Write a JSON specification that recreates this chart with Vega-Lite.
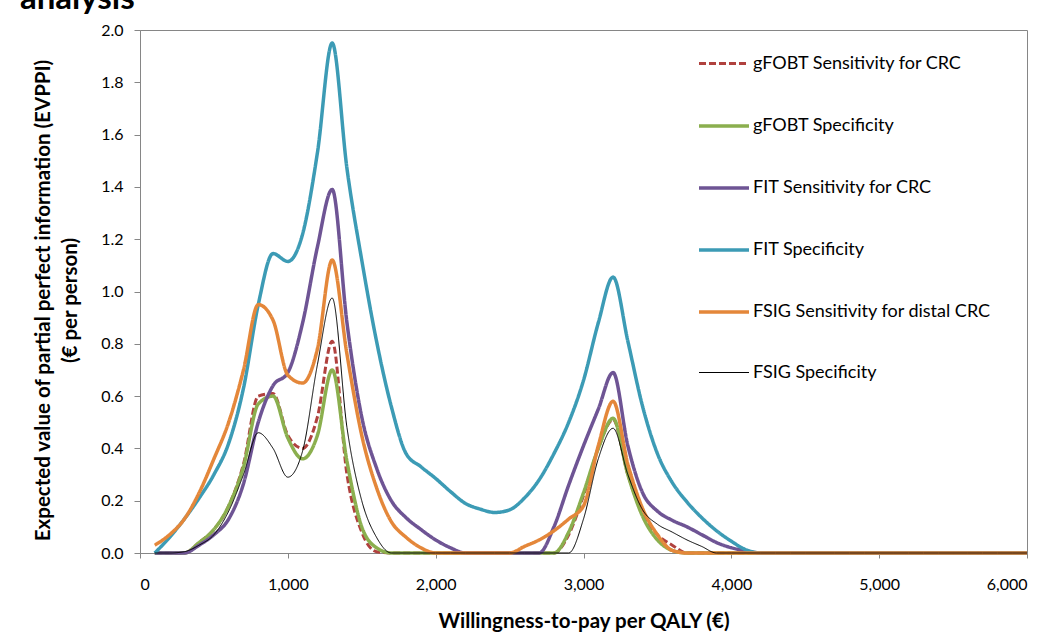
{
  "$schema": "https://vega.github.io/schema/vega-lite/v6.json",
  "width": 887,
  "height": 523,
  "autosize": {"type": "none"},
  "padding": {"left": 140, "top": 30, "right": 36, "bottom": 79},
  "background": "white",
  "title": {"text": "analysis", "anchor": "start", "frame": "group", "dx": -120, "offset": -20, "baseline": "alphabetic", "fontSize": 33, "font": "Lato", "fontWeight": "bold", "color": "black"},
  "data": {"values": [
    {"x":100,"a":0,"b":0,"c":0,"d":0,"e":0.03,"f":0},
    {"x":200,"a":0,"b":0,"c":0,"d":0.06,"e":0.07,"f":0},
    {"x":300,"a":0,"b":0,"c":0,"d":0.13,"e":0.13,"f":0.005},
    {"x":400,"a":0.04,"b":0.04,"c":0.03,"d":0.21,"e":0.23,"f":0.03},
    {"x":500,"a":0.09,"b":0.09,"c":0.07,"d":0.30,"e":0.36,"f":0.07},
    {"x":600,"a":0.18,"b":0.18,"c":0.13,"d":0.42,"e":0.50,"f":0.16},
    {"x":700,"a":0.34,"b":0.33,"c":0.265,"d":0.63,"e":0.70,"f":0.30},
    {"x":800,"a":0.60,"b":0.57,"c":0.50,"d":0.95,"e":0.95,"f":0.46},
    {"x":900,"a":0.61,"b":0.60,"c":0.64,"d":1.145,"e":0.89,"f":0.40},
    {"x":1000,"a":0.45,"b":0.44,"c":0.69,"d":1.115,"e":0.68,"f":0.29},
    {"x":1100,"a":0.40,"b":0.36,"c":0.88,"d":1.22,"e":0.65,"f":0.39},
    {"x":1200,"a":0.52,"b":0.45,"c":1.17,"d":1.53,"e":0.78,"f":0.72},
    {"x":1300,"a":0.81,"b":0.70,"c":1.39,"d":1.95,"e":1.12,"f":0.975},
    {"x":1400,"a":0.30,"b":0.35,"c":0.88,"d":1.47,"e":0.76,"f":0.48},
    {"x":1500,"a":0.08,"b":0.10,"c":0.52,"d":1.12,"e":0.45,"f":0.20},
    {"x":1600,"a":0.005,"b":0.02,"c":0.325,"d":0.81,"e":0.25,"f":0.06},
    {"x":1700,"a":0,"b":0,"c":0.20,"d":0.56,"e":0.12,"f":0},
    {"x":1800,"a":0,"b":0,"c":0.135,"d":0.38,"e":0.06,"f":0},
    {"x":1900,"a":0,"b":0,"c":0.09,"d":0.33,"e":0.02,"f":0},
    {"x":2000,"a":0,"b":0,"c":0.05,"d":0.285,"e":0,"f":0},
    {"x":2100,"a":0,"b":0,"c":0.02,"d":0.235,"e":0,"f":0},
    {"x":2200,"a":0,"b":0,"c":0,"d":0.19,"e":0,"f":0},
    {"x":2300,"a":0,"b":0,"c":0,"d":0.168,"e":0,"f":0},
    {"x":2400,"a":0,"b":0,"c":0,"d":0.155,"e":0,"f":0},
    {"x":2500,"a":0,"b":0,"c":0,"d":0.165,"e":0,"f":0},
    {"x":2600,"a":0,"b":0,"c":0,"d":0.21,"e":0.025,"f":0},
    {"x":2700,"a":0,"b":0,"c":0,"d":0.28,"e":0.05,"f":0},
    {"x":2800,"a":0,"b":0,"c":0.10,"d":0.38,"e":0.085,"f":0},
    {"x":2900,"a":0.07,"b":0.08,"c":0.26,"d":0.50,"e":0.13,"f":0},
    {"x":3000,"a":0.22,"b":0.23,"c":0.41,"d":0.66,"e":0.18,"f":0.13},
    {"x":3100,"a":0.40,"b":0.40,"c":0.55,"d":0.88,"e":0.41,"f":0.36},
    {"x":3200,"a":0.51,"b":0.515,"c":0.69,"d":1.055,"e":0.58,"f":0.477},
    {"x":3300,"a":0.30,"b":0.30,"c":0.41,"d":0.81,"e":0.34,"f":0.30},
    {"x":3400,"a":0.15,"b":0.14,"c":0.23,"d":0.56,"e":0.17,"f":0.165},
    {"x":3500,"a":0.07,"b":0.05,"c":0.16,"d":0.38,"e":0.07,"f":0.11},
    {"x":3600,"a":0.03,"b":0.01,"c":0.125,"d":0.27,"e":0.01,"f":0.08},
    {"x":3700,"a":0,"b":0,"c":0.10,"d":0.195,"e":0,"f":0.05},
    {"x":3800,"a":0,"b":0,"c":0.07,"d":0.135,"e":0,"f":0.025},
    {"x":3900,"a":0,"b":0,"c":0.04,"d":0.085,"e":0,"f":0},
    {"x":4000,"a":0,"b":0,"c":0.02,"d":0.045,"e":0,"f":0},
    {"x":4100,"a":0,"b":0,"c":0.008,"d":0.012,"e":0,"f":0},
    {"x":4200,"a":0,"b":0,"c":0,"d":0,"e":0,"f":0},
    {"x":4300,"a":0,"b":0,"c":0,"d":0,"e":0,"f":0},
    {"x":4400,"a":0,"b":0,"c":0,"d":0,"e":0,"f":0},
    {"x":4500,"a":0,"b":0,"c":0,"d":0,"e":0,"f":0},
    {"x":4600,"a":0,"b":0,"c":0,"d":0,"e":0,"f":0},
    {"x":4700,"a":0,"b":0,"c":0,"d":0,"e":0,"f":0},
    {"x":4800,"a":0,"b":0,"c":0,"d":0,"e":0,"f":0},
    {"x":4900,"a":0,"b":0,"c":0,"d":0,"e":0,"f":0},
    {"x":5000,"a":0,"b":0,"c":0,"d":0,"e":0,"f":0},
    {"x":5100,"a":0,"b":0,"c":0,"d":0,"e":0,"f":0},
    {"x":5200,"a":0,"b":0,"c":0,"d":0,"e":0,"f":0},
    {"x":5300,"a":0,"b":0,"c":0,"d":0,"e":0,"f":0},
    {"x":5400,"a":0,"b":0,"c":0,"d":0,"e":0,"f":0},
    {"x":5500,"a":0,"b":0,"c":0,"d":0,"e":0,"f":0},
    {"x":5600,"a":0,"b":0,"c":0,"d":0,"e":0,"f":0},
    {"x":5700,"a":0,"b":0,"c":0,"d":0,"e":0,"f":0},
    {"x":5800,"a":0,"b":0,"c":0,"d":0,"e":0,"f":0},
    {"x":5900,"a":0,"b":0,"c":0,"d":0,"e":0,"f":0},
    {"x":6000,"a":0,"b":0,"c":0,"d":0,"e":0,"f":0}
  ]},
  "transform": [{"fold": ["a","b","c","d","e","f"], "as": ["s","v"]}],
  "mark": {"type": "line", "interpolate": "monotone", "strokeCap": "butt", "strokeJoin": "round"},
  "encoding": {
    "x": {"field": "x", "type": "quantitative", "scale": {"domain": [0, 6000], "nice": false, "zero": false},
      "axis": {"values": [0,1000,2000,3000,4000,5000,6000], "format": ",d", "title": "Willingness-to-pay per QALY (€)", "titleY": 74, "titleBaseline": "alphabetic", "tickSize": 5, "labelPadding": 18}},
    "y": {"field": "v", "type": "quantitative", "scale": {"domain": [0, 2], "nice": false},
      "axis": {"values": [0,0.2,0.4,0.6,0.8,1.0,1.2,1.4,1.6,1.8,2.0], "format": ".1f", "title": ["Expected value of partial perfect information (EVPPI)", "(€ per person)"], "titleX": -91, "titleY": 270, "titleBaseline": "alphabetic", "titleLineHeight": 27, "titleAngle": -90, "tickSize": 6, "labelPadding": 11}},
    "color": {"field": "s", "type": "nominal",
      "scale": {"domain": ["a","b","c","d","e","f"], "range": ["#B0413E","#8BAF4E","#6E5494","#3C9BB5","#E4873A","#000000"]},
      "legend": {"orient": "none", "legendX": 557, "legendY": 7, "title": null, "symbolType": "stroke", "symbolSize": 2500, "labelOffset": 2, "rowPadding": 26, "padding": 0, "labelLimit": 0,
        "labelExpr": "{'a':'gFOBT Sensitivity for CRC','b':'gFOBT Specificity','c':'FIT Sensitivity for CRC','d':'FIT Specificity','e':'FSIG Sensitivity for distal CRC','f':'FSIG Specificity'}[datum.value]"}},
    "strokeDash": {"field": "s", "type": "nominal",
      "scale": {"domain": ["a","b","c","d","e","f"], "range": [[7,3],[1,0],[1,0],[1,0],[1,0],[1,0]]}},
    "strokeWidth": {"field": "s", "type": "nominal",
      "scale": {"type": "ordinal", "domain": ["a","b","c","d","e","f"], "range": [3,3.5,3.5,3.5,3.5,1]}}
  },
  "config": {
    "font": "Lato",
    "view": {"stroke": "#868686", "strokeWidth": 1},
    "axis": {"grid": false, "domainColor": "#868686", "tickColor": "#868686", "labelColor": "#000000", "labelFont": "Lato", "labelFontSize": 16, "titleFont": "Lato", "titleFontSize": 20.5, "titleFontWeight": "bold", "titleColor": "#000000"},
    "legend": {"labelFont": "Lato", "labelFontSize": 18, "labelColor": "#000000"}
  }
}
